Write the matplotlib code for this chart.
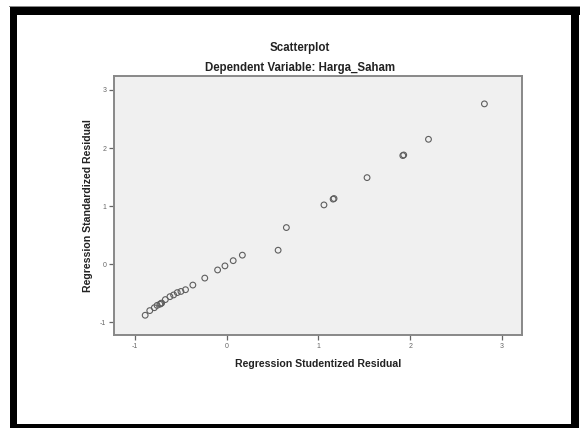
import matplotlib
matplotlib.use("Agg")
import matplotlib.pyplot as plt
from matplotlib.patches import Rectangle

# Data (studentized vs standardized residuals)
studentized = [2.81, 2.20, 1.92, 1.93, 1.53, 1.16, 1.17, 1.06, 0.65, 0.56,
               0.17, 0.07, -0.02, -0.10, -0.24, -0.37, -0.45, -0.50, -0.54,
               -0.58, -0.62, -0.67, -0.72, -0.73, -0.71, -0.76, -0.79, -0.84, -0.89]
standardized = [2.76, 2.15, 1.87, 1.88, 1.49, 1.12, 1.13, 1.02, 0.63, 0.24,
                0.155, 0.06, -0.03, -0.10, -0.24, -0.36, -0.44, -0.47, -0.49,
                -0.53, -0.56, -0.61, -0.68, -0.69, -0.67, -0.71, -0.75, -0.80, -0.88]
x_ticks = [-1, 0, 1, 2, 3]
y_ticks = [-1, 0, 1, 2, 3]
title = "Scatterplot"
subtitle = "Dependent Variable: Harga_Saham"
xlabel = "Regression Studentized Residual"
ylabel = "Regression Standardized Residual"

plt.rcParams['font.family'] = ['Liberation Sans', 'DejaVu Sans']

W, H = 580, 429
fig = plt.figure(figsize=(W / 100, H / 100), dpi=100)
fig.patch.set_facecolor('white')

# axes box in pixels: left 114, right 522, top 76, bottom 335
l, r, t, b = 114, 522, 76, 335
ax = fig.add_axes([l / W, 1 - b / H, (r - l) / W, (b - t) / H])
ax.set_facecolor('#f0f0f0')
ax.scatter(studentized, standardized, s=17, facecolors='none',
           edgecolors='#5e5e5e', linewidths=0.8, zorder=3)
ax.set_xlim(-1.23, 3.22)
ax.set_ylim(-1.22, 3.24)
ax.set_xticks(x_ticks)
ax.set_yticks(y_ticks)
ax.set_xticklabels([str(v) for v in x_ticks], fontsize=5, color='#555555')
ax.set_yticklabels([str(v) for v in y_ticks], fontsize=5, color='#555555')
ax.tick_params(direction='out', length=3.5, width=0.9, colors='#666666', pad=2)
for sp in ax.spines.values():
    sp.set_color('#888888')
    sp.set_linewidth(1.4)

ax.set_xlabel(xlabel, fontsize=7.6, fontweight='bold', color='#222222', labelpad=7)
ax.set_ylabel(ylabel, fontsize=7.6, fontweight='bold', color='#222222', labelpad=5)

fig.text(300 / W, 1 - 48 / H, title, ha='center', va='center',
         fontsize=8.3, fontweight='bold', color='#222222')
fig.text(300 / W, 1 - 68 / H, subtitle, ha='center', va='center',
         fontsize=8.3, fontweight='bold', color='#222222')

# thick black frame around the figure (pixel coordinates)
def px_rect(x0, y0, x1, y1, color):
    fig.patches.append(Rectangle((x0 / W, 1 - y1 / H), (x1 - x0) / W, (y1 - y0) / H,
                                 transform=fig.transFigure, facecolor=color,
                                 edgecolor='none', zorder=10))

px_rect(9, 6, 580, 7, '#888888')
px_rect(10, 7, 580, 15, 'black')     # top
px_rect(10, 7, 17, 428, 'black')     # left
px_rect(571, 7, 579, 428, 'black')   # right
px_rect(10, 424, 579, 428, 'black')  # bottom

fig.savefig('out.png', dpi=100, facecolor='white')
